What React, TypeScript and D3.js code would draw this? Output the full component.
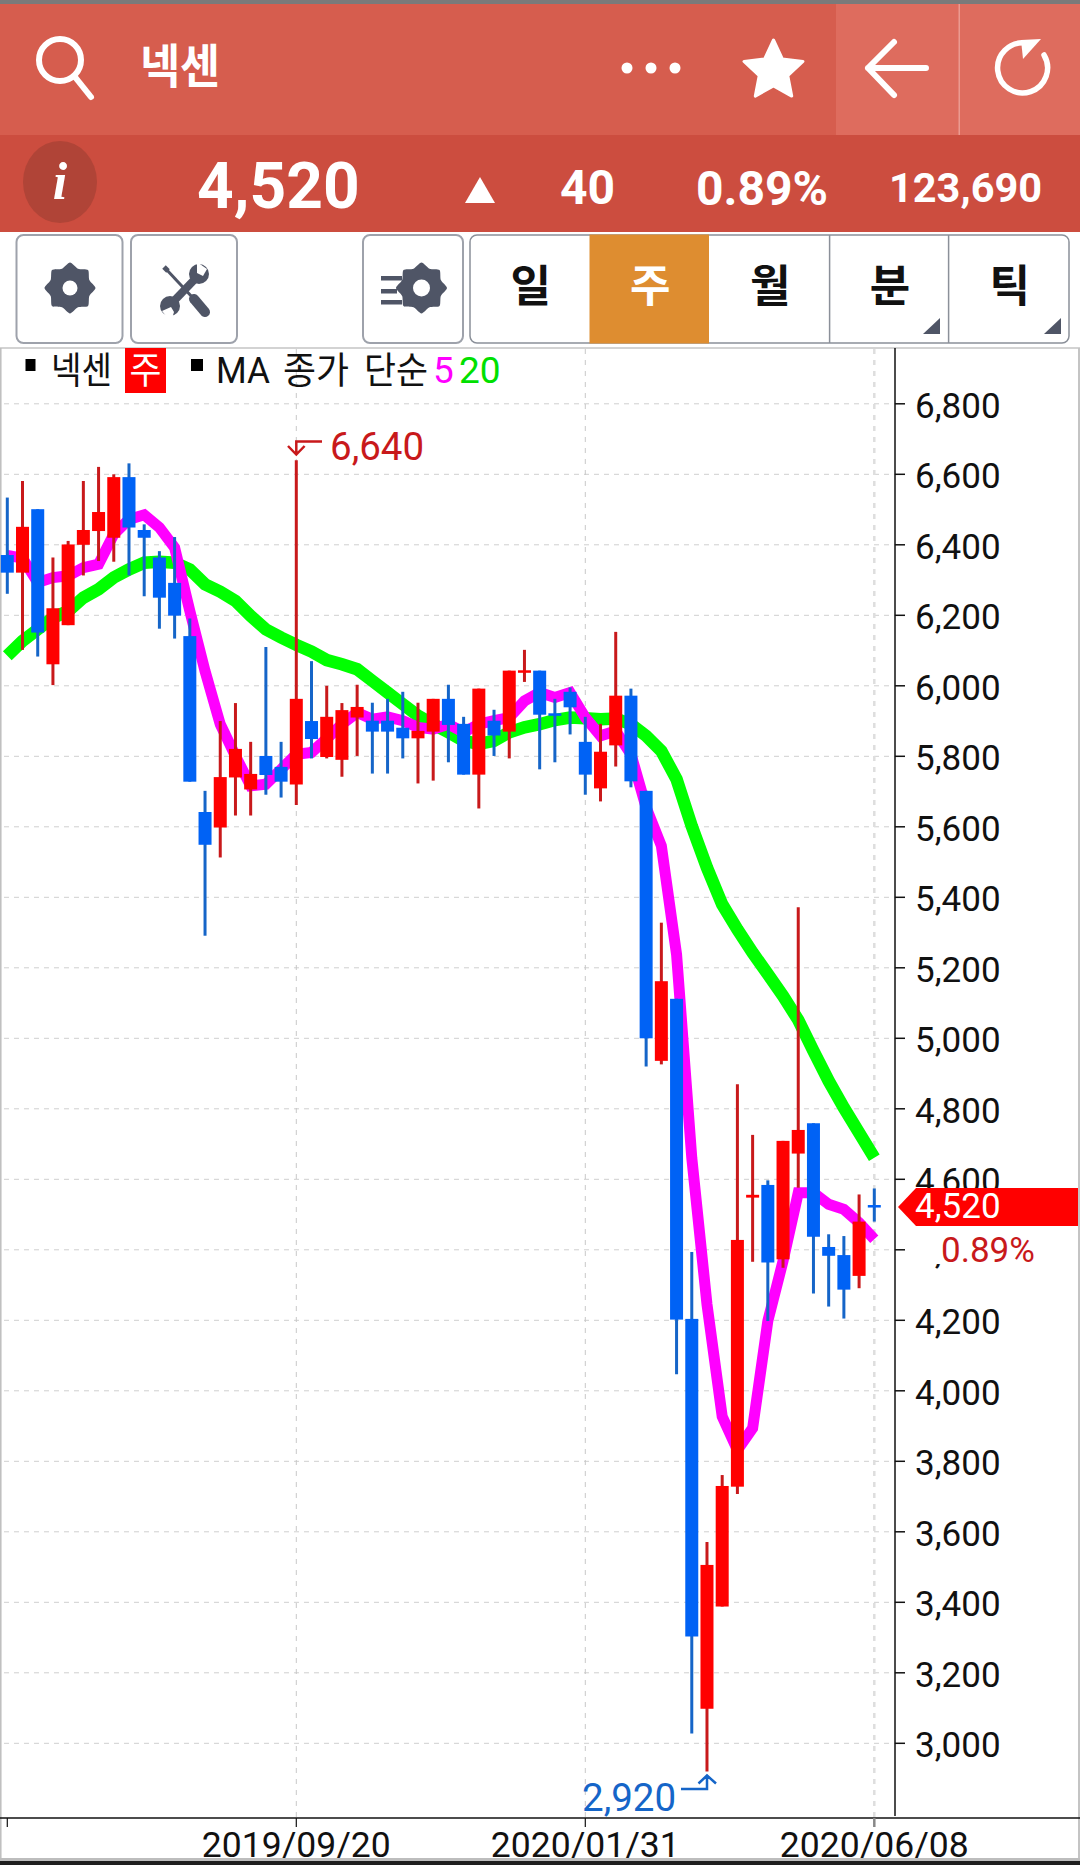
import React from "react";
import * as d3 from "d3";

const opens = [6371,6321,6501,6061,6172,6400,6439,6420,6592,6442,6364,6292,6141,5642,5598,5740,5706,5801,5770,5720,5900,5798,5790,5910,5901,5901,5881,5851,5870,5963,5892,5748,5901,5870,6039,6043,5922,5983,5841,5709,5831,5972,5702,4936,5112,4204,3098,3388,3728,4548,4584,4373,4673,4759,4408,4385,4326,4527];
const closes = [6321,6451,6151,6220,6401,6442,6493,6592,6449,6420,6250,6199,5728,5549,5741,5821,5750,5747,5728,5963,5849,5912,5931,5940,5870,5870,5851,5872,5963,5889,5748,5992,5859,6043,6044,5918,5915,5939,5748,5813,5972,5729,5000,5162,4202,3303,3506,3730,4428,4556,4364,4709,4740,4437,4383,4287,4480,4520];
const highs = [6534,6581,6501,6364,6411,6581,6621,6600,6631,6458,6382,6422,6191,5702,5900,5951,5841,6110,5841,6640,6070,6000,5951,6003,5952,5963,5983,5952,5963,6003,5912,5992,5932,6043,6102,6043,5963,5995,5912,5892,6153,5992,5702,5328,5112,4394,3571,3761,4870,4726,4597,4709,5372,4759,4444,4439,4557,4574];
const lows = [6261,6102,6083,6002,6172,6313,6354,6352,6313,6254,6162,6134,5728,5291,5513,5632,5632,5691,5683,5662,5794,5794,5742,5801,5751,5751,5794,5723,5731,5783,5748,5652,5801,5794,6011,5763,5783,5862,5691,5672,5771,5712,4920,4926,4047,3028,2920,3388,3707,4366,4198,4349,4576,4276,4239,4205,4291,4480];
const ma5 = [6370,6362,6293,6307,6312,6335,6345,6430,6472,6485,6449,6392,6212,6042,5891,5801,5716,5721,5763,5806,5811,5850,5891,5924,5905,5912,5901,5882,5877,5891,5868,5891,5901,5910,5957,5981,5967,5981,5910,5858,5872,5806,5655,5546,5238,4661,4245,3927,3832,3894,4198,4368,4562,4562,4529,4515,4477,4430];
const ma20 = [6085,6127,6160,6193,6212,6250,6274,6307,6330,6349,6352,6349,6330,6288,6267,6241,6198,6160,6137,6116,6097,6073,6061,6047,6014,5981,5948,5915,5891,5868,5844,5835,5844,5868,5882,5891,5903,5910,5908,5905,5907,5891,5858,5815,5735,5602,5484,5380,5309,5243,5182,5120,5052,4964,4879,4803,4732,4661];
const yTicks = [3000,3200,3400,3600,3800,4000,4200,4400,4600,4800,5000,5200,5400,5600,5800,6000,6200,6400,6600,6800];
const xTickIndex = [0,19,38,57];
const xTickLabels = ["","2019/09/20","2020/01/31","2020/06/08"];
const tabs = ["일","주","월","분","틱"];
const name = "넥센";
const price = "4,520";
const change = "40";
const changePct = "0.89%";
const volume = "123,690";
const maxLabel = "6,640";
const minLabel = "2,920";

const RED = "#ff0000", REDW = "#c8191b", BLUE = "#0062f5", BLUEW = "#1565c8";
const SANS = "Roboto, 'Noto Sans CJK KR', sans-serif";
const KR = "'Noto Sans CJK KR', sans-serif";
const DARK = "#4f5566";

const x = d3.scaleLinear().domain([0, 57]).range([7.3, 874.3]);
const y = d3.scaleLinear().domain([3000, 6800]).range([1743.3, 403.8]);
const line = d3.line<number>().x((_, i) => x(i)).y(d => y(d));

function Gear({ cx, cy, r, hole }: { cx: number; cy: number; r: number; hole: number }) {
  const pts = d3.range(16).map(i => [(i * Math.PI) / 8, i % 2 ? r * 0.82 : r] as [number, number]);
  const d = d3.lineRadial().curve(d3.curveCardinalClosed.tension(0.3))(pts) || "";
  return (
    <g transform={`translate(${cx},${cy})`}>
      <path d={d} fill={DARK} />
      <circle r={hole} fill="#fff" />
    </g>
  );
}

function star(cx: number, cy: number, R: number, r: number) {
  return d3.range(10).map(i => {
    const a = (i * Math.PI) / 5 - Math.PI / 2;
    const q = i % 2 ? r : R;
    return `${cx + q * Math.cos(a)},${cy + q * Math.sin(a)}`;
  }).join(" ");
}

export default function App() {
  const tabEdges = [470, 589.5, 709, 829.6, 948.6, 1069];
  return (
    <svg width={1080} height={1865} viewBox="0 0 1080 1865" style={{ position: "absolute", left: 0, top: 0, background: "#fff" }}>
      {/* header */}
      <rect x={0} y={0} width={1080} height={4} fill="#7a7a7a" />
      <rect x={0} y={4} width={1080} height={131} fill="#d65d4e" />
      <rect x={836} y={4} width={244} height={131} fill="#de6c5e" />
      <rect x={958.5} y={4} width={1.5} height={131} fill="#eb9a90" />
      <rect x={0} y={135} width={1080} height={97} fill="#cc4d3f" />
      <circle cx={60} cy={60} r={21} fill="none" stroke="#fff" strokeWidth={6} />
      <line x1={75} y1={77} x2={91} y2={97} stroke="#fff" strokeWidth={6} strokeLinecap="round" />
      <text x={140} y={83} fontFamily={KR} fontWeight={700} fontSize={47} textLength={80} lengthAdjust="spacingAndGlyphs" fill="#fff">{name}</text>
      {[627, 651, 675].map(c => <circle key={c} cx={c} cy={68} r={5.5} fill="#fff" />)}
      <polygon points={star(773.5, 71, 31, 15)} fill="#fff" stroke="#fff" strokeWidth={3} strokeLinejoin="round" />
      <path d="M894 42 L868 68 L894 95 M868 68 L926 68" fill="none" stroke="#fff" strokeWidth={6} strokeLinecap="round" strokeLinejoin="round" />
      <path d="M1025 43 A25 25 0 1 0 1044 55" fill="none" stroke="#fff" strokeWidth={5.5} strokeLinecap="round" />
      <path d="M1021 40 L1041 39 L1023 59 Z" fill="#fff" />

      <ellipse cx={60} cy={182} rx={37} ry={41} fill="#b04437" />
      <text x={60} y={199} textAnchor="middle" fontFamily="'Liberation Serif', serif" fontStyle="italic" fontWeight={700} fontSize={52} fill="#fff">i</text>
      <text x={197} y={208} fontFamily={SANS} fontWeight={700} fontSize={64} fill="#fff">{price}</text>
      <polygon points="480,177 495,203 465,203" fill="#fff" />
      <text x={560} y={204} fontFamily={SANS} fontWeight={700} fontSize={48} fill="#fff">{change}</text>
      <text x={696} y={205} fontFamily={SANS} fontWeight={700} fontSize={48} fill="#fff">{changePct}</text>
      <text x={889} y={202} fontFamily={SANS} fontWeight={700} fontSize={41.5} fill="#fff">{volume}</text>

      {/* toolbar */}
      {[[16.5, 106], [131, 106], [363, 100]].map(([bx, bw]) => (
        <rect key={bx} x={bx} y={235} width={bw} height={108} rx={7} fill="#fff" stroke="#9ea2ab" strokeWidth={2} />
      ))}
      <Gear cx={70} cy={288} r={25.5} hole={7.5} />
      {/* crossed tools */}
      <g stroke={DARK} fill="none">
        <line x1={164} y1={267} x2={168} y2={271} strokeWidth={5} />
        <line x1={166} y1={269} x2={193} y2={298} strokeWidth={3} />
        <line x1={194} y1={299} x2={205} y2={312} strokeWidth={10} strokeLinecap="round" />
        <line x1={172} y1={303} x2={196} y2={278} strokeWidth={8} />
      </g>
      <circle cx={170} cy={306} r={10} fill={DARK} />
      <circle cx={199} cy={274} r={10} fill={DARK} />
      <polygon points="162,311 171,307 174,312 171,322" fill="#fff" />
      <polygon points="207,269 203,276 197,273 197,262" fill="#fff" />
      <Gear cx={421.5} cy={288} r={25.5} hole={8.5} />
      <rect x={381} y={276} width={21} height={4.5} fill={DARK} />
      <rect x={381} y={289} width={16} height={4.5} fill={DARK} />
      <rect x={381} y={300} width={21} height={4.5} fill={DARK} />
      <rect x={470} y={235} width={599} height={108} rx={7} fill="#fff" stroke="#8b9099" strokeWidth={1.5} />
      <rect x={589.5} y={234.5} width={119.5} height={109} fill="#de8d30" />
      {[829.6, 948.6].map(v => <line key={v} x1={v} x2={v} y1={235} y2={343} stroke="#8b9099" strokeWidth={1.5} />)}
      {tabs.map((t, i) => (
        <text key={t} x={(tabEdges[i] + tabEdges[i + 1]) / 2 + 1} y={302} textAnchor="middle" fontFamily={KR} fontWeight={700} fontSize={44} fill={i === 1 ? "#fff" : "#111"}>{t}</text>
      ))}
      <polygon points="940,318 940,334 923,334" fill={DARK} />
      <polygon points="1061,318 1061,334 1044,334" fill={DARK} />

      {/* chart frame */}
      <line x1={0} x2={1080} y1={348} y2={348} stroke="#c4c4c4" strokeWidth={1.5} />
      <line x1={0.8} x2={0.8} y1={348} y2={1860} stroke="#bdbdbd" strokeWidth={1.5} />
      <line x1={1079} x2={1079} y1={348} y2={1860} stroke="#c4c4c4" strokeWidth={2} />

      {/* grid */}
      {yTicks.map(t => (
        <line key={t} x1={4} x2={895} y1={y(t)} y2={y(t)} stroke="#cfcfcf" strokeWidth={1} strokeDasharray="5 5" />
      ))}
      {xTickIndex.slice(1, 3).map(i => (
        <line key={i} x1={x(i)} x2={x(i)} y1={349} y2={1817} stroke="#c8c8c8" strokeWidth={1} strokeDasharray="5 6" />
      ))}
      <line x1={x(57)} x2={x(57)} y1={349} y2={1817} stroke="#dedede" strokeWidth={2.5} strokeDasharray="5 6" />

      {/* moving averages */}
      <path d={line(ma20) || ""} fill="none" stroke="#00ff00" strokeWidth={12.5} />
      <path d={line(ma5) || ""} fill="none" stroke="#ff00ff" strokeWidth={11} />

      {/* candles */}
      {opens.map((o, i) => {
        const c = closes[i];
        const up = c >= o;
        const top = y(Math.max(o, c));
        const h = Math.max(2.5, Math.abs(y(o) - y(c)));
        return (
          <g key={i}>
            <line x1={x(i)} x2={x(i)} y1={y(highs[i])} y2={y(lows[i])} stroke={up ? REDW : BLUEW} strokeWidth={3} />
            <rect x={x(i) - 6.5} y={top} width={13} height={h} fill={up ? RED : BLUE} />
          </g>
        );
      })}

      {/* high / low notes */}
      <path d="M322 441.5 L296.3 441.5 L296.3 454 M288 446 L296.3 454.5 L304.6 446" fill="none" stroke={REDW} strokeWidth={2.5} />
      <text x={330} y={459.5} fontFamily={SANS} fontSize={38.5} fill={REDW}>{maxLabel}</text>
      <path d="M681 1789 L707 1789 L707 1776 M698.5 1783.5 L707 1775.5 L716 1783.5" fill="none" stroke={BLUEW} strokeWidth={2.5} />
      <text x={582} y={1810.5} fontFamily={SANS} fontSize={38.5} fill={BLUEW}>{minLabel}</text>

      {/* y axis */}
      <line x1={895} x2={895} y1={348} y2={1816} stroke="#111" strokeWidth={1.5} />
      {yTicks.map(t => (
        <g key={t}>
          <line x1={895} x2={905} y1={y(t)} y2={y(t)} stroke="#111" strokeWidth={1.5} />
          <text x={915} y={y(t) + 14} fontFamily={SANS} fontSize={35} fill="#111">{d3.format(",")(t)}</text>
        </g>
      ))}
      <rect x={912} y={1227} width={134} height={37} fill="#fff" />
      <polygon points="898,1207 916,1188 1078,1188 1078,1226 916,1226" fill={RED} />
      <text x={915} y={1217.5} fontFamily={SANS} fontSize={35} fill="#fff">{price}</text>
      <text x={941} y={1262} fontFamily={SANS} fontSize={35} fill={REDW}>{changePct}</text>

      {/* x axis */}
      <line x1={0} x2={1080} y1={1818} y2={1818} stroke="#111" strokeWidth={1.5} />
      {xTickIndex.map((i, k) => (
        <g key={i}>
          <line x1={x(i)} x2={x(i)} y1={1818} y2={1827} stroke={k === 3 ? "#888" : "#111"} strokeWidth={k === 3 ? 2.5 : 1.2} />
          {xTickLabels[k] && <text x={x(i)} y={1857} textAnchor="middle" fontFamily={SANS} fontSize={35.5} fill="#111">{xTickLabels[k]}</text>}
        </g>
      ))}
      <rect x={0} y={1858} width={1080} height={3} fill="#bdbdbd" />
      <rect x={0} y={1861} width={1080} height={4} fill="#1e1e1e" />

      {/* legend */}
      <rect x={25.5} y={359} width={10} height={12} fill="#000" />
      <text x={51} y={384} fontFamily={KR} fontSize={37} textLength={61} lengthAdjust="spacingAndGlyphs" fill="#111">{name}</text>
      <rect x={125} y={348} width={41} height={45} fill={RED} />
      <text x={145.5} y={384} textAnchor="middle" fontFamily={KR} fontSize={37} textLength={32} lengthAdjust="spacingAndGlyphs" fill="#fff">주</text>
      <rect x={191} y={359} width={12} height={12} fill="#000" />
      <text x={216} y={383} fontFamily={SANS} fontSize={36} textLength={54} lengthAdjust="spacingAndGlyphs" fill="#111">MA</text>
      <text x={283} y={384} fontFamily={KR} fontSize={37} textLength={66} lengthAdjust="spacingAndGlyphs" fill="#111">종가</text>
      <text x={364} y={384} fontFamily={KR} fontSize={37} textLength={64} lengthAdjust="spacingAndGlyphs" fill="#111">단순</text>
      <text x={433} y={383} fontFamily={SANS} fontSize={37} fill="#ff00ff">5</text>
      <text x={459} y={383} fontFamily={SANS} fontSize={37} fill="#00e000">20</text>
    </svg>
  );
}
